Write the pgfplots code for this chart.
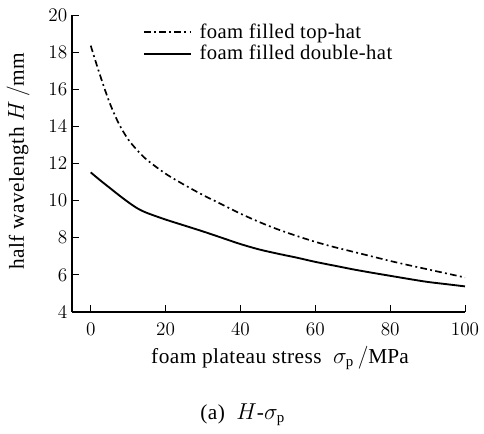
\documentclass[border=0pt]{standalone}
\usepackage{fontspec}
\setmainfont{Liberation Serif}[LetterSpace=2]
\usepackage{pgfplots}
\pgfplotsset{compat=1.18}

\begin{document}
\begin{tikzpicture}
  \begin{axis}[
      scale only axis,
      width=294.75pt, height=222.75pt,
      at={(0,0)}, anchor=south west,
      xmin=-5, xmax=100,
      ymin=4, ymax=20,
      xtick={0,20,40,60,80,100},
      ytick={4,6,8,10,12,14,16,18,20},
      axis x line*=bottom,
      axis y line*=left,
      axis line style={-, line width=0.8pt},
      tick align=inside,
      major tick length=5pt,
      tick style={line width=0.7pt, black},
      tick label style={font=\fontsize{14.5}{16}\selectfont},
      xticklabel style={yshift=-5pt},
      legend style={draw=none, fill=none, at={(0.17,0.99)}, anchor=north west,
        font=\fontsize{15.5}{18}\selectfont, row sep=0pt,
        cells={anchor=west}, nodes={inner xsep=6pt}},
      legend image code/.code={\draw[#1] (0pt,0pt) -- (35pt,0pt);},
    ]
    % foam filled top-hat
    \addplot[black, line width=1.25pt, smooth,
      dash pattern=on 5pt off 2.5pt on 1.4pt off 2.5pt]
    coordinates {
        (0,18.35) (2.5,16.75) (5,15.3) (7.5,14.15) (10,13.3) (12.5,12.7)
        (15,12.2) (20,11.45) (25,10.85) (30,10.3) (35,9.8) (40,9.3)
        (45,8.85) (50,8.45) (55,8.1) (60,7.78) (65,7.5) (70,7.25)
        (75,7.0) (80,6.75) (85,6.52) (90,6.3) (95,6.08) (100,5.86)
      };
    % foam filled double-hat
    \addplot[black, line width=1.4pt, smooth]
    coordinates {
        (0,11.52) (2.5,11.1) (5,10.7) (7.5,10.3) (10,9.92) (12.5,9.58)
        (15,9.34) (20,8.98) (25,8.66) (30,8.34) (35,8.0) (40,7.66)
        (45,7.37) (50,7.14) (55,6.93) (60,6.7) (65,6.5) (70,6.3)
        (75,6.12) (80,5.95) (85,5.78) (90,5.62) (95,5.5) (100,5.38)
      };
    \legend{foam filled top-hat, foam filled double-hat}
  \end{axis}
  \node[rotate=90, font=\fontsize{16}{19}\selectfont] at (-40.5pt,113pt)
    {half wavelength $H\,/\mathrm{mm}$};
  \node[font=\fontsize{16}{19}\selectfont] at (156pt,-34.5pt)
    {foam plateau stress\ \ $\sigma_{\mathrm{p}}\,/\mathrm{MPa}$};
  \node[font=\fontsize{16}{19}\selectfont] at (128pt,-77pt)
    {(a)\ \ $H$-$\sigma_{\mathrm{p}}$};
  \path[use as bounding box] (-54pt,-91.5pt) rectangle (309pt,234pt);
\end{tikzpicture}
\end{document}
